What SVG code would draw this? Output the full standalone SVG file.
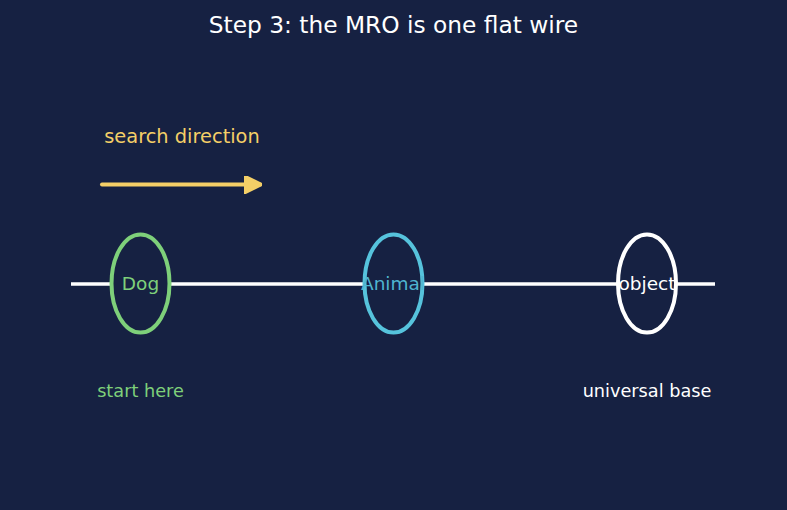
<svg xmlns="http://www.w3.org/2000/svg" width="787" height="510" viewBox="0 0 787 510">
<defs>
<style>
text{font-family:"DejaVu Sans","Liberation Sans",sans-serif}
.node{fill:#162142;stroke-width:4}
.lbl{font-size:18.5px;text-anchor:middle}
.sub{font-size:17.7px;text-anchor:middle}
</style>
<marker id="ah" viewBox="0 0 10 10" refX="9" refY="5" markerWidth="4.5" markerHeight="4.5" orient="auto" markerUnits="strokeWidth">
<path d="M0,0 L10,5 L0,10 z" fill="#f4cf67" stroke="#f4cf67" stroke-width="1.5" stroke-linejoin="round"/>
</marker>
</defs>
<rect width="787" height="510" fill="#162142"/>
<text x="393.5" y="33" font-size="23.3" fill="#ffffff" text-anchor="middle">Step 3: the MRO is one flat wire</text>
<g id="connectors">
<line x1="71" y1="284" x2="715" y2="284" stroke="#ffffff" stroke-width="3.5"/>
<line id="search-arrow" x1="102" y1="184.5" x2="260" y2="184.5" stroke="#f4cf67" stroke-width="4" stroke-linecap="round" marker-end="url(#ah)"/>
</g>
<text x="182" y="143" font-size="19.4" fill="#f4cf67" text-anchor="middle">search direction</text>
<g id="dog">
<ellipse class="node" cx="140.5" cy="283.5" rx="29" ry="49" stroke="#7ed07a"/>
<text class="lbl" x="140.5" y="290" fill="#7ed07a">Dog</text>
<text class="sub" x="140.5" y="397" fill="#7ed07a">start here</text>
</g>
<g id="animal">
<ellipse class="node" cx="393.5" cy="283.5" rx="29" ry="49" stroke="#56c3dc"/>
<text class="lbl" x="393" y="290" fill="#4fb5cf">Animal</text>
</g>
<g id="object">
<ellipse class="node" cx="647" cy="283.5" rx="29" ry="49" stroke="#ffffff"/>
<text class="lbl" x="647" y="290" fill="#ffffff">object</text>
<text class="sub" x="647" y="397" fill="#ffffff">universal base</text>
</g>
</svg>
